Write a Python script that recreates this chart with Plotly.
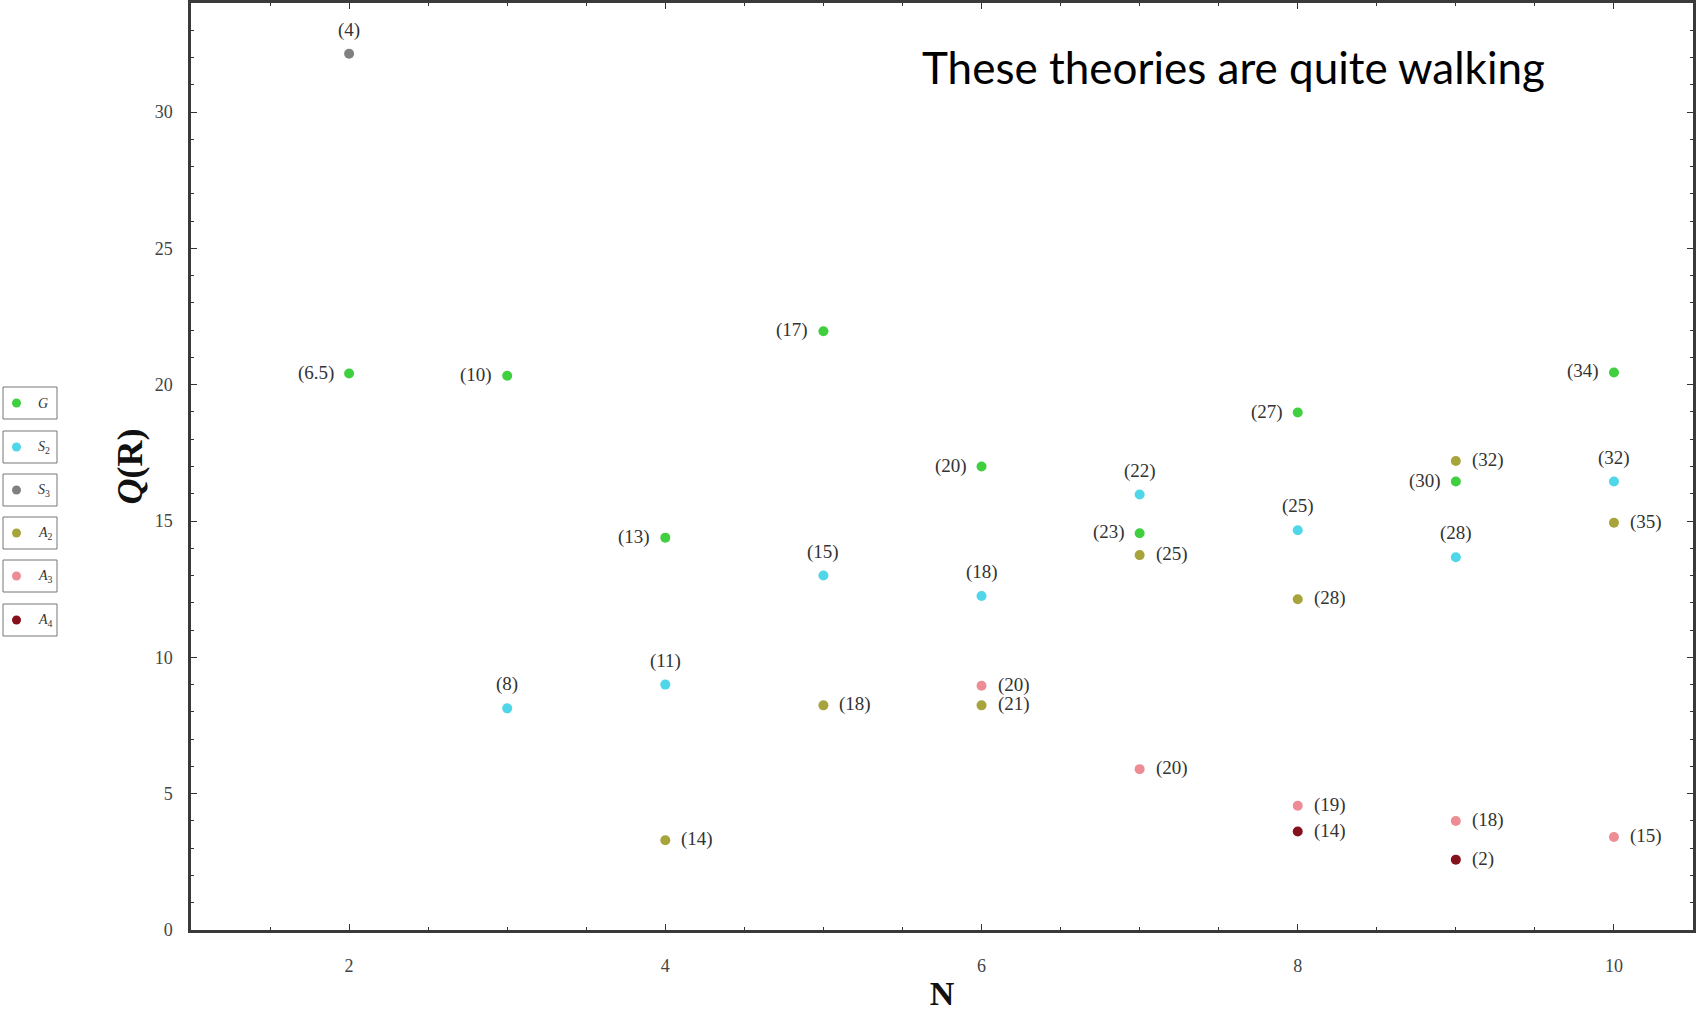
import plotly.graph_objects as go

# ---- data ----
series_names = ["G", "S2", "S3", "A2", "A3", "A4"]
legend_labels = ["<i>G</i>", "<i>S</i><sub>2</sub>", "<i>S</i><sub>3</sub>",
                 "<i>A</i><sub>2</sub>", "<i>A</i><sub>3</sub>", "<i>A</i><sub>4</sub>"]
colors = ["#3fcf3f", "#4fd6e8", "#808080", "#a6a43a", "#ee8c96", "#85111c"]

G_N = [2, 3, 4, 5, 6, 7, 8, 9, 10]
G_Q = [20.41, 20.33, 14.39, 21.96, 17.0, 14.55, 18.98, 16.45, 20.45]
G_lab = ["(6.5)", "(10)", "(13)", "(17)", "(20)", "(23)", "(27)", "(30)", "(34)"]

S2_N = [3, 4, 5, 6, 7, 8, 9, 10]
S2_Q = [8.13, 9.0, 13.0, 12.25, 15.97, 14.66, 13.67, 16.45]
S2_lab = ["(8)", "(11)", "(15)", "(18)", "(22)", "(25)", "(28)", "(32)"]

S3_N = [2]
S3_Q = [32.14]
S3_lab = ["(4)"]

A2_N = [4, 5, 6, 7, 8, 9, 10]
A2_Q = [3.29, 8.24, 8.24, 13.75, 12.13, 17.2, 14.94]
A2_lab = ["(14)", "(18)", "(21)", "(25)", "(28)", "(32)", "(35)"]

A3_N = [6, 7, 8, 9, 10]
A3_Q = [8.96, 5.9, 4.56, 4.0, 3.41]
A3_lab = ["(20)", "(20)", "(19)", "(18)", "(15)"]

A4_N = [8, 9]
A4_Q = [3.61, 2.58]
A4_lab = ["(14)", "(2)"]

x_ticks = [2, 4, 6, 8, 10]
y_ticks = [0, 5, 10, 15, 20, 25, 30]
note = "These theories are quite walking"

series = [
    (G_N, G_Q, G_lab, "left"),
    (S2_N, S2_Q, S2_lab, "top"),
    (S3_N, S3_Q, S3_lab, "top"),
    (A2_N, A2_Q, A2_lab, "right"),
    (A3_N, A3_Q, A3_lab, "right"),
    (A4_N, A4_Q, A4_lab, "right"),
]

SERIF = "Liberation Serif, Times New Roman, serif"
label_font = dict(family=SERIF, size=19, color="#333333")

fig = go.Figure()
for i, (xs, ys, labs, pos) in enumerate(series):
    fig.add_trace(go.Scatter(
        x=xs, y=ys, mode="markers", name=series_names[i], showlegend=False,
        marker=dict(color=colors[i], size=10, line=dict(width=0)),
    ))
    for xv, yv, lab in zip(xs, ys, labs):
        if pos == "left":
            kw = dict(xanchor="right", yanchor="middle", xshift=-13, yshift=1)
        elif pos == "right":
            kw = dict(xanchor="left", yanchor="middle", xshift=14, yshift=1)
        else:
            kw = dict(xanchor="center", yanchor="middle", xshift=0, yshift=24)
        fig.add_annotation(x=xv, y=yv, text=lab, showarrow=False, font=label_font, **kw)

W, H = 1696, 1012
L, R, T, B = 191, 3, 3, 82
pw, ph = W - L - R, H - T - B

axis_common = dict(
    showline=True, linecolor="#3a3a3a", linewidth=2.5, mirror="allticks",
    ticks="inside", ticklen=6, tickwidth=1, tickcolor="#333333",
    showgrid=False, zeroline=False,
    tickfont=dict(family=SERIF, size=18, color="#444444"),
)

fig.update_xaxes(range=[1.0, 10.5], tickvals=x_ticks, **axis_common, ticklabelstandoff=18,
                 minor=dict(dtick=0.5, ticks="inside", ticklen=3, tickcolor="#333333"),
                 title=dict(text="<b>N</b>", standoff=6,
                            font=dict(family=SERIF, size=34, color="#111111")))
fig.update_yaxes(range=[0, 34], tickvals=y_ticks, **axis_common, ticklabelstandoff=12,
                 minor=dict(dtick=1, ticks="inside", ticklen=3, tickcolor="#333333"),
                 title=dict(text="<b><i>Q</i>(R)</b>", standoff=2,
                            font=dict(family=SERIF, size=36, color="#111111")))

fig.update_layout(
    width=W, height=H,
    margin=dict(l=L, r=R, t=T, b=B, autoexpand=False),
    paper_bgcolor="white", plot_bgcolor="white",
    showlegend=False,
)

# hand-drawn legend at the left: individual boxes
def px_x(p):
    return (p - L) / pw

def px_y(p):
    return (H - B - p) / ph

box_centers_px = [403, 447, 490, 533, 576, 620]
for i, cy in enumerate(box_centers_px):
    fig.add_shape(type="rect", xref="paper", yref="paper",
                  x0=px_x(3), x1=px_x(57), y0=px_y(cy + 16), y1=px_y(cy - 16),
                  line=dict(color="#777777", width=1), fillcolor="rgba(0,0,0,0)")
    fig.add_shape(type="circle", xref="paper", yref="paper",
                  x0=px_x(12), x1=px_x(21), y0=px_y(cy + 4.5), y1=px_y(cy - 4.5),
                  line=dict(width=0), fillcolor=colors[i])
    fig.add_annotation(text=legend_labels[i], xref="paper", yref="paper",
                       x=px_x(36), y=px_y(cy), xanchor="left", yanchor="middle",
                       showarrow=False, font=dict(family=SERIF, size=14, color="#333333"))

fig.add_annotation(text=note, xref="paper", yref="paper",
                   x=px_x(920), y=px_y(67), xanchor="left", yanchor="middle",
                   showarrow=False,
                   font=dict(family="Lato, Open Sans, sans-serif", size=44, color="#000000"))

fig.write_html("out.html", config={"displayModeBar": False},
               post_script="document.body.style.margin='0';")
